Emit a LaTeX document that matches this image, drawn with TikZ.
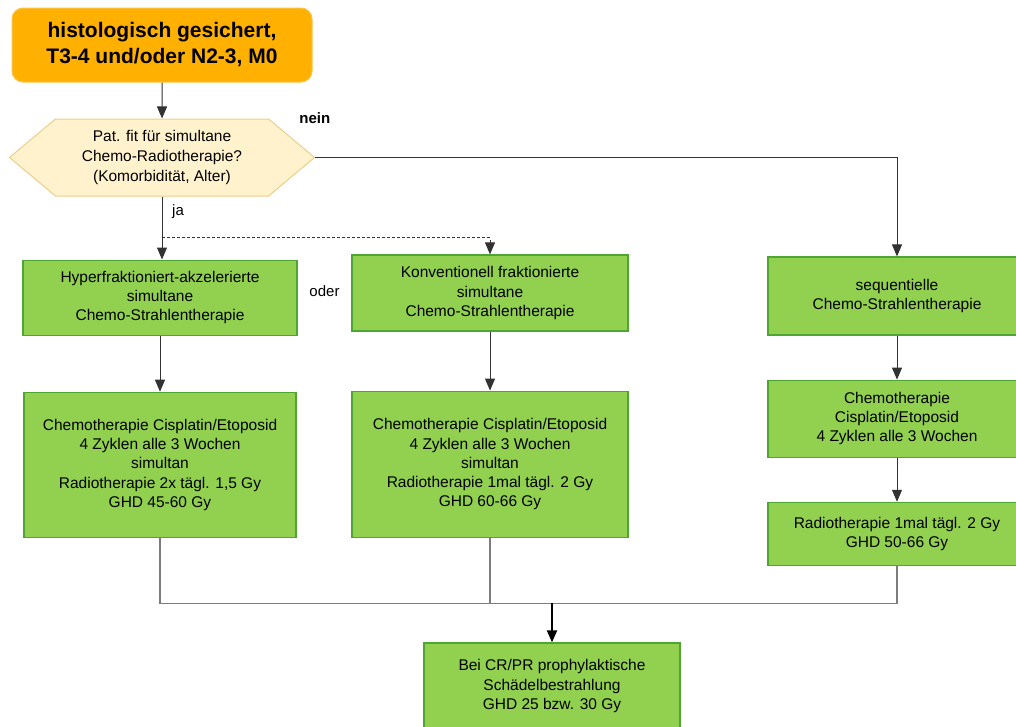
\documentclass[tikz,border=0pt]{standalone}
\usepackage{fontspec}
\setmainfont{Liberation Sans}
\usetikzlibrary{shapes.symbols, positioning, arrows.meta, calc}

\definecolor{startorange}{RGB}{255,176,0}
\definecolor{startborder}{RGB}{250,196,70}
\definecolor{boxgreen}{RGB}{146,208,80}
\definecolor{boxborder}{RGB}{78,165,50}
\definecolor{askfill}{RGB}{255,242,204}
\definecolor{askborder}{RGB}{236,206,140}
\definecolor{linegray}{RGB}{50,50,50}
\definecolor{mergegray}{RGB}{125,125,125}

\begin{document}
\begin{tikzpicture}[
  x=1pt, y=1pt,
  node distance=36pt and 36pt,
  startnode/.style={draw=startborder, fill=startorange, line width=1pt, rounded corners=11pt,
    minimum width=300pt, minimum height=74pt, align=center,
    font=\fontsize{21}{26}\selectfont\bfseries},
  asknode/.style={signal, signal to=west and east, signal pointer angle=80,
    draw=askborder, fill=askfill, line width=1pt, inner sep=0pt,
    minimum width=305pt, minimum height=77pt, align=center,
    font=\fontsize{15.5}{20}\selectfont},
  therapy/.style={draw=boxborder, fill=boxgreen, line width=1.2pt, inner sep=0pt,
    align=center, font=\fontsize{15.5}{19.2}\selectfont},
  arr/.style={-{Triangle[length=12pt,width=10pt]}, draw=linegray, line width=1pt},
  mergeline/.style={draw=mergegray, line width=1.5pt},
  bigarr/.style={-{Triangle[length=12pt,width=10pt]}, draw=black, line width=2pt},
  lbl/.style={inner sep=0pt, font=\fontsize{15}{18}\selectfont}
]
\useasboundingbox (0,0) rectangle (1016,-726);

% start and question
\node[startnode] (start) at (162,-45) {histologisch gesichert,\\T3-4 und/oder N2-3, M0};
\node[asknode, below=36pt of start] (ask) {Pat. fit für simultane\\Chemo-Radiotherapie?\\(Komorbidität, Alter)};

% three therapy columns
\node[therapy, minimum width=274pt, minimum height=75pt, below=63pt of ask, xshift=-2pt] (hyper)
  {Hyperfraktioniert-akzelerierte\\simultane\\Chemo-Strahlentherapie};
\node[therapy, minimum width=276pt, minimum height=76pt] (konv) at (490,-293)
  {Konventionell fraktionierte\\simultane\\Chemo-Strahlentherapie};
\node[therapy, minimum width=258pt, minimum height=78pt] (seq) at (897,-296)
  {sequentielle\\Chemo-Strahlentherapie};

\node[therapy, minimum width=272pt, minimum height=145pt, below=56pt of hyper] (hyperrt)
  {Chemotherapie Cisplatin/Etoposid\\4 Zyklen alle 3 Wochen\\simultan\\Radiotherapie 2x tägl. 1,5 Gy\\GHD 45-60 Gy};
\node[therapy, minimum width=276pt, minimum height=146pt, below=59pt of konv] (konvrt)
  {Chemotherapie Cisplatin/Etoposid\\4 Zyklen alle 3 Wochen\\simultan\\Radiotherapie 1mal tägl. 2 Gy\\GHD 60-66 Gy};
\node[therapy, minimum width=258pt, minimum height=77pt, below=44pt of seq] (seqchemo)
  {Chemotherapie\\Cisplatin/Etoposid\\4 Zyklen alle 3 Wochen};
\node[therapy, minimum width=258pt, minimum height=63pt, below=44pt of seqchemo] (seqrt)
  {Radiotherapie 1mal tägl. 2 Gy\\GHD 50-66 Gy};

\node[therapy, minimum width=256pt, minimum height=86pt] (pci) at (552,-686)
  {Bei CR/PR prophylaktische\\Schädelbestrahlung\\GHD 25 bzw. 30 Gy};

% labels
\node[lbl, font=\fontsize{15}{18}\selectfont\bfseries, anchor=west] (nein) at ([shift={(-16pt,39pt)}]ask.east) {nein};
\node[lbl, anchor=west] (ja) at ([shift={(10pt,-15pt)}]ask.south) {ja};
\node[lbl] (oder) at ($(hyper.east)!0.5!(konv.west)+(0,4pt)$) {oder};

% connectors
\coordinate (split) at ([yshift=-41pt]ask.south);
\coordinate (merge) at ([yshift=39pt]pci.north);

\draw[arr] (start) -- (ask);
\draw[arr] (ask.east) -| (seq.north);
\draw[arr] (ask.south) -- (ask.south |- hyper.north);
\draw[arr, dash pattern=on 3pt off 2pt] (split) -| (konv.north);

\draw[arr] (hyper) -- (hyperrt);
\draw[arr] (konv) -- (konvrt);
\draw[arr] (seq) -- (seqchemo);
\draw[arr] (seqchemo) -- (seqrt);

\draw[mergeline] (hyperrt.south) |- (merge);
\draw[mergeline] (konvrt.south) |- (merge);
\draw[mergeline] (seqrt.south) |- (merge);
\draw[bigarr] (merge) -- (pci.north);

\end{tikzpicture}
\end{document}
